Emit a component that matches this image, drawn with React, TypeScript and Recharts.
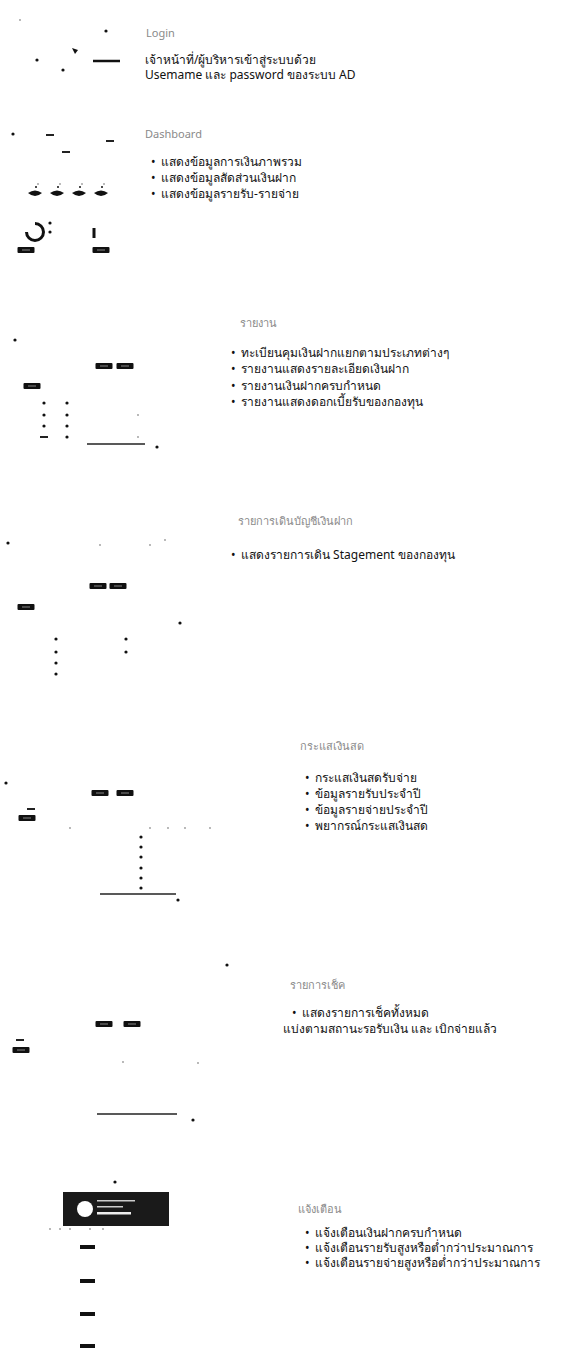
import { Pie, PieChart, Cell, Scatter, ScatterChart, XAxis, YAxis } from "recharts"

const W = 572
const H = 1348

// dark specks left over from the scanned screenshots
const dots = [
  { x: 106, y: 31 }, { x: 37, y: 60 }, { x: 63, y: 70 }, { x: 13, y: 134 },
  { x: 50, y: 223 }, { x: 50, y: 232 }, { x: 15, y: 340 }, { x: 157, y: 447 },
  { x: 44, y: 403 }, { x: 67, y: 403 }, { x: 44, y: 415 }, { x: 67, y: 415 },
  { x: 44, y: 426 }, { x: 67, y: 426 }, { x: 67, y: 437 },
  { x: 8, y: 543 }, { x: 180, y: 623 },
  { x: 56, y: 639 }, { x: 56, y: 652 }, { x: 56, y: 663 }, { x: 56, y: 674 },
  { x: 126, y: 639 }, { x: 126, y: 652 },
  { x: 6, y: 783 }, { x: 178, y: 900 },
  { x: 141, y: 837 }, { x: 141, y: 847 }, { x: 141, y: 857 },
  { x: 141, y: 868 }, { x: 141, y: 878 }, { x: 141, y: 888 },
  { x: 227, y: 965 }, { x: 193, y: 1120 }, { x: 115, y: 1182 },
]

const arrowMarks = [{ x: 75, y: 51 }]

const faintDots = [
  { x: 20, y: 20 }, { x: 138, y: 415 }, { x: 138, y: 437 }, { x: 100, y: 545 },
  { x: 150, y: 545 }, { x: 165, y: 540 }, { x: 70, y: 828 }, { x: 150, y: 828 },
  { x: 168, y: 828 }, { x: 185, y: 828 }, { x: 210, y: 828 }, { x: 123, y: 1062 },
  { x: 198, y: 1063 }, { x: 50, y: 1229 }, { x: 60, y: 1229 }, { x: 70, y: 1229 },
  { x: 90, y: 1229 }, { x: 103, y: 1229 },
]

const dashes = [
  { x: 50, y: 135 }, { x: 110, y: 141 }, { x: 66, y: 152 },
  { x: 44, y: 437 }, { x: 31, y: 809 }, { x: 20, y: 1040 },
]

const buttons = [
  { x: 104, y: 366 }, { x: 125, y: 366 }, { x: 32, y: 386 },
  { x: 98, y: 586 }, { x: 118, y: 586 }, { x: 26, y: 607 },
  { x: 100, y: 793 }, { x: 125, y: 793 }, { x: 27, y: 818 },
  { x: 104, y: 1024 }, { x: 132, y: 1024 }, { x: 21, y: 1050 },
  { x: 26, y: 250 }, { x: 101, y: 250 },
]

const alertBars = [
  { x: 87, y: 1247 }, { x: 87, y: 1281 }, { x: 87, y: 1314 }, { x: 87, y: 1346 },
]

const icons = [
  { x: 35, y: 193 }, { x: 57, y: 193 }, { x: 79, y: 193 }, { x: 101, y: 193 },
]

const banner = [{ x: 116, y: 1209 }]
const stick = [{ x: 94, y: 233 }]

const thinRules = [
  [{ x: 87, y: 444 }, { x: 145, y: 444 }],
  [{ x: 100, y: 894 }, { x: 176, y: 894 }],
  [{ x: 97, y: 1114 }, { x: 177, y: 1114 }],
]
const boldRules = [[{ x: 93, y: 61 }, { x: 120, y: 61 }]]

const donut = [
  { name: "shown", value: 75 },
  { name: "gap", value: 25 },
]

const titles = [
  { text: "Login", x: 146, y: 33 },
  { text: "Dashboard", x: 145, y: 134 },
  { text: "รายงาน", x: 240, y: 323 },
  { text: "รายการเดินบัญชีเงินฝาก", x: 238, y: 521 },
  { text: "กระแสเงินสด", x: 300, y: 746 },
  { text: "รายการเช็ค", x: 290, y: 985 },
  { text: "แจ้งเตือน", x: 298, y: 1209 },
]

const plainLines = [
  { text: "เจ้าหน้าที่/ผู้บริหารเข้าสู่ระบบด้วย", x: 145, y: 60 },
  { text: "Usemame และ password ของระบบ AD", x: 145, y: 75 },
  { text: "แบ่งตามสถานะรอรับเงิน และ เบิกจ่ายแล้ว", x: 283, y: 1029 },
]

const bullets = [
  { text: "แสดงข้อมูลการเงินภาพรวม", x: 151, y: 162 },
  { text: "แสดงข้อมูลสัดส่วนเงินฝาก", x: 151, y: 178 },
  { text: "แสดงข้อมูลรายรับ-รายจ่าย", x: 151, y: 194 },
  { text: "ทะเบียนคุมเงินฝากแยกตามประเภทต่างๆ", x: 231, y: 353 },
  { text: "รายงานแสดงรายละเอียดเงินฝาก", x: 231, y: 369 },
  { text: "รายงานเงินฝากครบกำหนด", x: 231, y: 386 },
  { text: "รายงานแสดงดอกเบี้ยรับของกองทุน", x: 231, y: 402 },
  { text: "แสดงรายการเดิน Stagement ของกองทุน", x: 231, y: 555 },
  { text: "กระแสเงินสดรับจ่าย", x: 305, y: 778 },
  { text: "ข้อมูลรายรับประจำปี", x: 305, y: 794 },
  { text: "ข้อมูลรายจ่ายประจำปี", x: 305, y: 810 },
  { text: "พยากรณ์กระแสเงินสด", x: 305, y: 826 },
  { text: "แสดงรายการเช็คทั้งหมด", x: 292, y: 1013 },
  { text: "แจ้งเตือนเงินฝากครบกำหนด", x: 305, y: 1233 },
  { text: "แจ้งเตือนรายรับสูงหรือต่ำกว่าประมาณการ", x: 305, y: 1248 },
  { text: "แจ้งเตือนรายจ่ายสูงหรือต่ำกว่าประมาณการ", x: 305, y: 1263 },
]

const font = "'Noto Sans', 'DejaVu Sans', sans-serif"

const Dot = (p: any) => <circle cx={p.cx} cy={p.cy} r={1.6} fill="#111" />
const Arrow = (p: any) => <path d={`M${p.cx - 3},${p.cy - 3} L${p.cx + 3},${p.cy - 1} L${p.cx},${p.cy + 3} Z`} fill="#111" />
const Faint = (p: any) => <circle cx={p.cx} cy={p.cy} r={0.9} fill="#999" />
const Dash = (p: any) => <rect x={p.cx - 4} y={p.cy - 1} width={8} height={2} fill="#222" />
const Button = (p: any) => (
  <g>
    <rect x={p.cx - 8.5} y={p.cy - 3} width={17} height={6} rx={1} fill="#111" />
    <rect x={p.cx - 4} y={p.cy - 0.5} width={8} height={1} fill="#888" />
  </g>
)
const AlertBar = (p: any) => <rect x={p.cx - 7} y={p.cy - 2} width={15} height={4} fill="#111" />
const Icon = (p: any) => (
  <g fill="#111">
    <path d={`M${p.cx - 7},${p.cy} Q${p.cx},${p.cy - 5} ${p.cx + 7},${p.cy} Q${p.cx},${p.cy + 6} ${p.cx - 7},${p.cy} Z`} />
    <circle cx={p.cx + 1} cy={p.cy - 6} r={1} />
    <circle cx={p.cx + 3} cy={p.cy - 9} r={0.8} fill="#666" />
  </g>
)
const Stick = (p: any) => <rect x={p.cx - 1.5} y={p.cy - 5} width={3} height={10} fill="#111" />
const Banner = (p: any) => (
  <g>
    <rect x={p.cx - 53} y={p.cy - 17} width={106} height={34} fill="#1a1a1a" />
    <circle cx={p.cx - 31} cy={p.cy} r={8} fill="#fff" />
    <rect x={p.cx - 19} y={p.cy - 9} width={38} height={1.5} fill="#ccc" />
    <rect x={p.cx - 19} y={p.cy - 3} width={26} height={1.5} fill="#ccc" />
    <rect x={p.cx - 19} y={p.cy + 3} width={34} height={2.5} fill="#eee" />
  </g>
)
const Nothing = () => <g />

const textBase = { position: "absolute" as const, lineHeight: "14px", whiteSpace: "nowrap" as const }

export default function App() {
  return (
    <div style={{ position: "fixed", left: 0, top: 0, width: W, height: H, background: "#fff", overflow: "hidden", fontFamily: font }}>
      <div style={{ position: "absolute", left: 0, top: 0 }}>
        <ScatterChart width={W} height={H} margin={{ top: 0, right: 0, bottom: 0, left: 0 }}>
          <XAxis type="number" dataKey="x" domain={[0, W]} hide allowDataOverflow />
          <YAxis type="number" dataKey="y" domain={[0, H]} reversed hide allowDataOverflow />
          {thinRules.map((r, i) => (
            <Scatter key={`t${i}`} data={r} line={{ stroke: "#222", strokeWidth: 1.3 }} shape={Nothing} isAnimationActive={false} />
          ))}
          {boldRules.map((r, i) => (
            <Scatter key={`b${i}`} data={r} line={{ stroke: "#111", strokeWidth: 2.5 }} shape={Nothing} isAnimationActive={false} />
          ))}
          <Scatter data={faintDots} shape={Faint} isAnimationActive={false} />
          <Scatter data={dots} shape={Dot} isAnimationActive={false} />
          <Scatter data={arrowMarks} shape={Arrow} isAnimationActive={false} />
          <Scatter data={dashes} shape={Dash} isAnimationActive={false} />
          <Scatter data={buttons} shape={Button} isAnimationActive={false} />
          <Scatter data={alertBars} shape={AlertBar} isAnimationActive={false} />
          <Scatter data={icons} shape={Icon} isAnimationActive={false} />
          <Scatter data={stick} shape={Stick} isAnimationActive={false} />
          <Scatter data={banner} shape={Banner} isAnimationActive={false} />
        </ScatterChart>
      </div>
      <div style={{ position: "absolute", left: 20, top: 217 }}>
        <PieChart width={30} height={30} margin={{ top: 0, right: 0, bottom: 0, left: 0 }}>
          <Pie data={donut} dataKey="value" cx={15} cy={15} innerRadius={7} outerRadius={10} startAngle={90} endAngle={-270} stroke="none" isAnimationActive={false}>
            <Cell fill="#111" />
            <Cell fill="transparent" />
          </Pie>
        </PieChart>
      </div>
      {titles.map((t) => (
        <div key={t.text} style={{ ...textBase, left: t.x, top: t.y - 7, fontSize: 11, color: "#8a8a8a" }}>
          {t.text}
        </div>
      ))}
      {plainLines.map((t) => (
        <div key={t.text} style={{ ...textBase, left: t.x, top: t.y - 7, fontSize: 12, color: "#111" }}>
          {t.text}
        </div>
      ))}
      {bullets.map((t) => (
        <div key={t.text} style={{ ...textBase, left: t.x, top: t.y - 7, fontSize: 12, color: "#111" }}>
          <span style={{ display: "inline-block", width: 10 }}>•</span>
          {t.text}
        </div>
      ))}
    </div>
  )
}
